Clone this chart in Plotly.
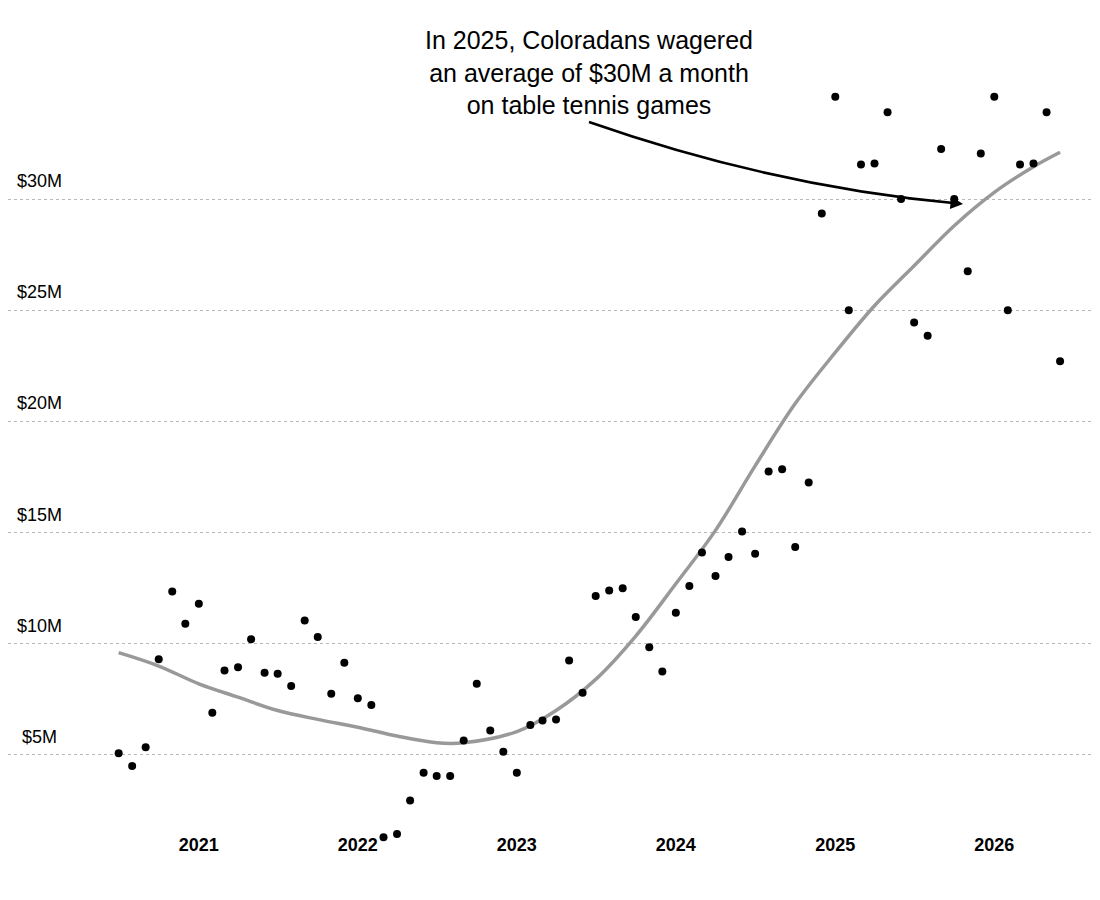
import pandas as pd
import plotly.graph_objects as go

# monthly wagers on table tennis, $M (Jul 2020 - Jun 2026)
months = pd.date_range("2020-07-01", periods=72, freq="MS")
wagers = [
    5.08, 4.5, 5.35, 9.3, 12.35, 10.9,
    11.8, 6.9, 8.8, 8.95, 10.2, 8.7, 8.65, 8.1, 11.05, 10.3, 7.75, 9.15,
    7.55, 7.25, 1.3, 1.45, 2.95, 4.2, 4.05, 4.05, 5.65, 8.2, 6.1, 5.15,
    4.2, 6.35, 6.55, 6.6, 9.25, 7.8, 12.15, 12.4, 12.5, 11.2, 9.85, 8.75,
    11.4, 12.6, 14.1, 13.05, 13.9, 15.05, 14.05, 17.75, 17.85, 14.35, 17.25, 29.35,
    34.6, 25.0, 31.55, 31.6, 33.9, 30.0, 24.45, 23.85, 32.25, 30.0, 26.75, 32.05,
    34.6, 25.0, 31.55, 31.6, 33.9, 22.7,
]

# smoothed trend
trend_dates = [
    "2020-07-01", "2020-10-01", "2021-01-01", "2021-04-01", "2021-07-01",
    "2021-10-01", "2022-01-01", "2022-04-01", "2022-07-01", "2022-09-01",
    "2023-01-01", "2023-04-01", "2023-07-01", "2023-10-01", "2024-01-01",
    "2024-04-01", "2024-07-01", "2024-10-01", "2025-01-01", "2025-04-01",
    "2025-07-01", "2025-10-01", "2026-01-01", "2026-04-01", "2026-06-01",
]
trend_values = [
    9.6, 9.0, 8.2, 7.6, 7.0,
    6.6, 6.25, 5.85, 5.55, 5.55,
    6.05, 7.0, 8.4, 10.35, 12.7,
    15.1, 18.0, 20.8, 23.1, 25.2,
    27.0, 28.8, 30.3, 31.45, 32.1,
]

y_ticks = [5, 10, 15, 20, 25, 30]
y_labels = ["$5M", "$10M", "$15M", "$20M", "$25M", "$30M"]
x_ticks = ["2021-01-01", "2022-01-01", "2023-01-01", "2024-01-01", "2025-01-01", "2026-01-01"]
x_labels = ["2021", "2022", "2023", "2024", "2025", "2026"]

font = "Liberation Sans, Arial, sans-serif"

# page has an 8px body margin; figure pixel = page pixel - 8
W, PLOT_H = 1100, 838


def px(x, y):
    return (x - 8) / W, (PLOT_H - (y - 8)) / PLOT_H


fig = go.Figure()
fig.add_trace(go.Scatter(
    x=trend_dates, y=trend_values, mode="lines",
    line=dict(color="#999999", width=3.5, shape="spline", smoothing=1.0),
    hoverinfo="skip",
))
fig.add_trace(go.Scatter(
    x=months, y=wagers, mode="markers",
    marker=dict(color="black", size=8),
    cliponaxis=False,
))

for v, t in zip(y_ticks, y_labels):
    fig.add_annotation(
        x=(39.5 - 8) / W, xref="paper", y=v, yref="y", yshift=18,
        text=t, showarrow=False, xanchor="center", yanchor="middle",
        font=dict(size=18, color="black", family=font),
    )

# annotation text
tx, ty = px(589, 72)
fig.add_annotation(
    x=tx, xref="paper", y=ty, yref="paper",
    text="In 2025, Coloradans wagered<br>an average of $30M a month<br>on table tennis games",
    showarrow=False, xanchor="center", yanchor="middle",
    font=dict(size=25, color="black", family=font),
)

# curved arrow body
p0, c, p2 = px(589, 122), px(775, 187), px(958, 203.5)
fig.add_shape(
    type="path", xref="paper", yref="paper",
    path=f"M {p0[0]},{p0[1]} Q {c[0]},{c[1]} {p2[0]},{p2[1]}",
    line=dict(color="black", width=2.5),
)
head = px(963, 204)
fig.add_annotation(
    x=head[0], y=head[1], xref="paper", yref="paper",
    ax=-14, ay=-1.5, axref="pixel", ayref="pixel",
    text="", showarrow=True, arrowhead=2, arrowsize=1, arrowwidth=2.5,
    arrowcolor="black",
)

fig.update_layout(
    width=1100, height=900,
    margin=dict(l=0, r=0, t=0, b=900 - PLOT_H),
    plot_bgcolor="white", paper_bgcolor="white",
    showlegend=False,
    font=dict(family=font, color="black"),
)
fig.update_xaxes(
    range=["2019-10-21", "2026-09-19"],
    tickvals=x_ticks, ticktext=x_labels,
    tickfont=dict(size=18, color="black", family=font, weight="bold"),
    ticklabelstandoff=-14,
    showgrid=False, zeroline=False, showline=False, ticks="",
)
fig.update_yaxes(
    range=[0.908, 38.588],
    tickvals=y_ticks, showticklabels=False,
    showgrid=True, gridcolor="#b8b8b8", gridwidth=1, griddash="dot",
    zeroline=False, showline=False, ticks="",
)

fig.write_html("out.html")
